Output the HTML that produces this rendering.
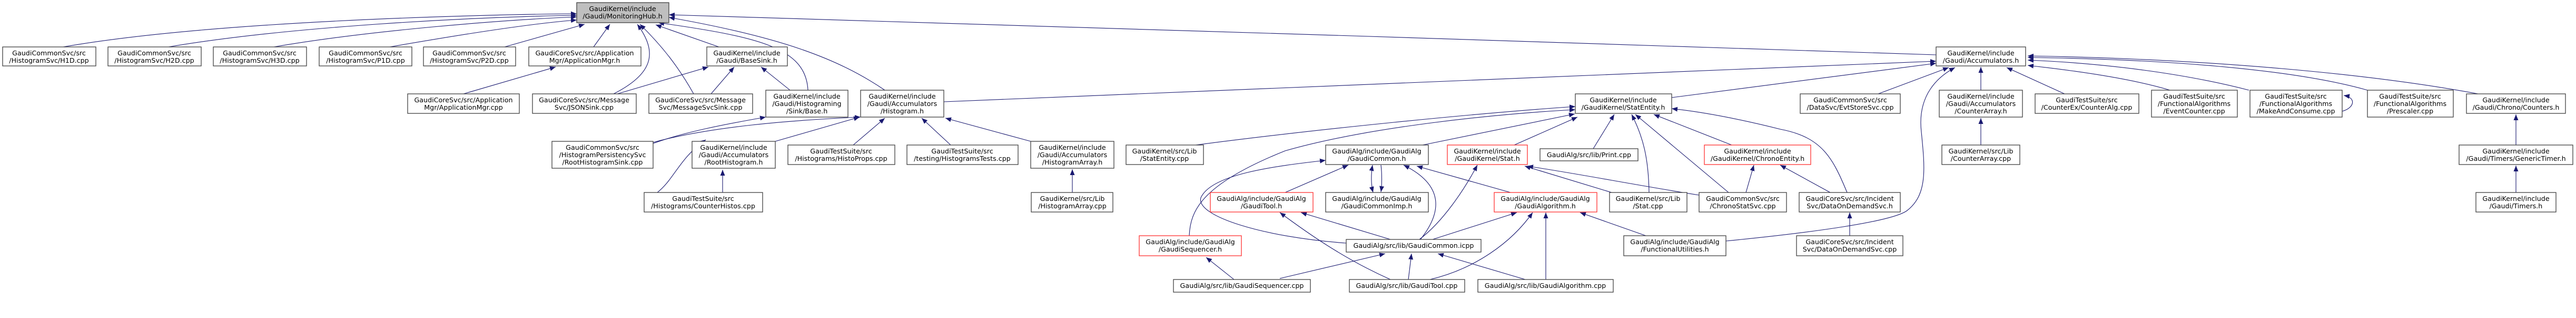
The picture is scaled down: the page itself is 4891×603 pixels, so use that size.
<!DOCTYPE html>
<html><head><meta charset="utf-8"><style>
html,body{margin:0;padding:0;background:#fff;}
svg{display:block;}
text{font-family:"DejaVu Sans","Liberation Sans",sans-serif;font-size:12.7px;fill:#000;text-anchor:middle;}
.n{fill:#fff;stroke:#404040;stroke-width:1.3;}
.r{fill:#fff;stroke:#ff3030;stroke-width:1.3;}
.g{fill:#bfbfbf;stroke:#404040;stroke-width:1.3;}
.e{fill:none;stroke:#191970;stroke-width:1.1;marker-end:url(#a);}
.e2{fill:none;stroke:#191970;stroke-width:1.1;marker-end:url(#a);marker-start:url(#b);}
</style></head><body>
<svg width="4891" height="603" viewBox="0 0 4891 603" xmlns="http://www.w3.org/2000/svg">
<defs>
<marker id="a" markerUnits="userSpaceOnUse" markerWidth="11" markerHeight="9" refX="11" refY="4.5" orient="auto"><path d="M0,0 L11,4.5 L0,9 z" fill="#191970"/></marker>
<marker id="b" markerUnits="userSpaceOnUse" markerWidth="11" markerHeight="9" refX="0" refY="4.5" orient="auto"><path d="M11,0 L0,4.5 L11,9 z" fill="#191970"/></marker>
</defs>
<!-- edges -->
<path class="e" d="M120,89 C400,40 900,28 1095,26"/>
<path class="e" d="M320,89 C550,50 900,32 1095,29"/>
<path class="e" d="M520,89 C700,58 950,38 1095,32"/>
<path class="e" d="M740,89 C850,70 1000,45 1095,38"/>
<path class="e" d="M958,89 L1110,46"/>
<path class="e" d="M1127,89 L1158,46"/>
<path class="e" d="M1165,178 C1240,140 1250,100 1210,46"/>
<path class="e" d="M1317,178 C1290,130 1260,90 1215,46"/>
<path class="e" d="M1365,89 L1245,47"/>
<path class="e" d="M1534,171 C1530,90 1440,70 1250,43"/>
<path class="e" d="M1680,171 C1590,110 1480,70 1270,33"/>
<path class="e" d="M3676,104 C3000,80 1800,45 1270,28"/>
<path class="e" d="M880,178 L1055,127"/>
<path class="e" d="M1172,178 L1345,127"/>
<path class="e" d="M1350,178 L1394,127"/>
<path class="e" d="M1500,171 L1445,127"/>
<path class="e" d="M1240,272 C1300,250 1380,235 1454,222"/>
<path class="e" d="M1240,270 C1350,240 1500,228 1634,222"/>
<path class="e" d="M1472,268 L1632,222"/>
<path class="e" d="M1248,365 C1280,340 1290,300 1340,265"/>
<path class="e" d="M1372,365 L1372,322"/>
<path class="e" d="M1620,275 L1680,224"/>
<path class="e" d="M1805,275 L1750,224"/>
<path class="e" d="M1957,268 L1795,224"/>
<path class="e" d="M2036,365 L2036,321"/>
<path class="e" d="M1792,193 C2500,170 3200,140 3676,116"/>
<path class="e" d="M3174,185 L3676,120"/>
<path class="e" d="M3566,178 L3700,128"/>
<path class="e" d="M3277,457 C3450,440 3590,420 3620,400 C3660,370 3655,320 3648,250 C3640,180 3680,145 3712,128"/>
<path class="e" d="M3761,171 L3761,127"/>
<path class="e" d="M3920,178 L3810,128"/>
<path class="e" d="M4120,171 C4050,150 3950,135 3850,124"/>
<path class="e" d="M4270,171 C4150,140 4000,120 3850,114"/>
<path class="e" d="M4495,171 C4350,130 4100,112 3850,109"/>
<path class="e" d="M4705,178 C4500,140 4200,112 3850,106"/>
<path class="e" d="M4447,211 C4470,205 4475,185 4450,181"/>
<path class="e" d="M3761,275 L3761,224"/>
<path class="e" d="M4777,275 L4777,217"/>
<path class="e" d="M4777,365 L4777,314"/>
<path class="e" d="M2270,275 C2500,245 2800,215 2991,202"/>
<path class="e" d="M2258,447 C2260,400 2280,350 2440,286 C2600,240 2850,215 2991,208"/>
<path class="e" d="M2556,461 C2400,450 2270,410 2280,375 C2300,330 2420,315 2517,304"/>
<path class="e" d="M2701,275 L2990,216"/>
<path class="e" d="M2875,275 L2995,222"/>
<path class="e" d="M3025,282 L3065,217"/>
<path class="e" d="M3131,365 C3130,300 3120,260 3098,217"/>
<path class="e" d="M3282,365 L3105,217"/>
<path class="e" d="M3288,275 L3140,217"/>
<path class="e" d="M3507,365 C3480,300 3460,260 3380,245 C3300,225 3230,212 3174,206"/>
<path class="e" d="M3315,365 L3330,313"/>
<path class="e" d="M3475,365 L3380,313"/>
<path class="e" d="M3512,447 L3512,403"/>
<path class="e" d="M2440,365 L2560,313"/>
<path class="e2" d="M2607,365 C2603,350 2603,330 2606,313"/>
<path class="e" d="M2622,313 C2624,330 2624,350 2622,364"/>
<path class="e" d="M2697,454 C2740,400 2740,350 2665,313"/>
<path class="e" d="M2868,365 L2690,315"/>
<path class="e" d="M3060,365 L2895,315"/>
<path class="e" d="M3226,370 C3100,350 3000,330 2900,315"/>
<path class="e" d="M2695,454 C2740,420 2780,360 2805,313"/>
<path class="e" d="M2640,454 L2470,403"/>
<path class="e" d="M2640,530 C2550,490 2480,440 2430,403"/>
<path class="e" d="M2720,454 L2880,403"/>
<path class="e" d="M2715,530 C2800,510 2870,460 2910,403"/>
<path class="e" d="M2935,530 L2935,403"/>
<path class="e" d="M3125,447 L3000,403"/>
<path class="e" d="M2430,528 L2630,481"/>
<path class="e" d="M2674,530 L2680,481"/>
<path class="e" d="M2896,530 L2730,481"/>
<path class="e" d="M2343,530 L2290,488"/>
<!-- nodes -->
<rect class="g" x="1095" y="5" width="175" height="38"/><text x="1182" y="21">GaudiKernel/include</text><text x="1182" y="35">/Gaudi/MonitoringHub.h</text>
<rect class="n" x="5" y="89" width="177" height="36"/><text x="93" y="105">GaudiCommonSvc/src</text><text x="93" y="119">/HistogramSvc/H1D.cpp</text>
<rect class="n" x="205" y="89" width="177" height="36"/><text x="293" y="105">GaudiCommonSvc/src</text><text x="293" y="119">/HistogramSvc/H2D.cpp</text>
<rect class="n" x="405" y="89" width="177" height="36"/><text x="493" y="105">GaudiCommonSvc/src</text><text x="493" y="119">/HistogramSvc/H3D.cpp</text>
<rect class="n" x="606" y="89" width="176" height="36"/><text x="694" y="105">GaudiCommonSvc/src</text><text x="694" y="119">/HistogramSvc/P1D.cpp</text>
<rect class="n" x="804" y="89" width="175" height="36"/><text x="891" y="105">GaudiCommonSvc/src</text><text x="891" y="119">/HistogramSvc/P2D.cpp</text>
<rect class="n" x="1004" y="89" width="213" height="36"/><text x="1110" y="105">GaudiCoreSvc/src/Application</text><text x="1110" y="119">Mgr/ApplicationMgr.h</text>
<rect class="n" x="1342" y="89" width="153" height="36"/><text x="1418" y="105">GaudiKernel/include</text><text x="1418" y="119">/Gaudi/BaseSink.h</text>
<rect class="n" x="3676" y="89" width="170" height="36"/><text x="3761" y="105">GaudiKernel/include</text><text x="3761" y="119">/Gaudi/Accumulators.h</text>
<rect class="n" x="774" y="178" width="212" height="37"/><text x="880" y="194">GaudiCoreSvc/src/Application</text><text x="880" y="208">Mgr/ApplicationMgr.cpp</text>
<rect class="n" x="1011" y="178" width="197" height="37"/><text x="1109" y="194">GaudiCoreSvc/src/Message</text><text x="1109" y="208">Svc/JSONSink.cpp</text>
<rect class="n" x="1232" y="178" width="197" height="37"/><text x="1330" y="194">GaudiCoreSvc/src/Message</text><text x="1330" y="208">Svc/MessageSvcSink.cpp</text>
<rect class="n" x="1454" y="171" width="156" height="51"/><text x="1532" y="187">GaudiKernel/include</text><text x="1532" y="201">/Gaudi/Histograming</text><text x="1532" y="215">/Sink/Base.h</text>
<rect class="n" x="1634" y="171" width="158" height="51"/><text x="1713" y="187">GaudiKernel/include</text><text x="1713" y="201">/Gaudi/Accumulators</text><text x="1713" y="215">/Histogram.h</text>
<rect class="n" x="2991" y="178" width="183" height="37"/><text x="3082" y="194">GaudiKernel/include</text><text x="3082" y="208">/GaudiKernel/StatEntity.h</text>
<rect class="n" x="3418" y="178" width="190" height="37"/><text x="3513" y="194">GaudiCommonSvc/src</text><text x="3513" y="208">/DataSvc/EvtStoreSvc.cpp</text>
<rect class="n" x="3682" y="171" width="158" height="51"/><text x="3761" y="187">GaudiKernel/include</text><text x="3761" y="201">/Gaudi/Accumulators</text><text x="3761" y="215">/CounterArray.h</text>
<rect class="n" x="3864" y="178" width="197" height="37"/><text x="3962" y="194">GaudiTestSuite/src</text><text x="3962" y="208">/CounterEx/CounterAlg.cpp</text>
<rect class="n" x="4085" y="171" width="163" height="51"/><text x="4166" y="187">GaudiTestSuite/src</text><text x="4166" y="201">/FunctionalAlgorithms</text><text x="4166" y="215">/EventCounter.cpp</text>
<rect class="n" x="4272" y="171" width="175" height="51"/><text x="4359" y="187">GaudiTestSuite/src</text><text x="4359" y="201">/FunctionalAlgorithms</text><text x="4359" y="215">/MakeAndConsume.cpp</text>
<rect class="n" x="4495" y="171" width="163" height="51"/><text x="4576" y="187">GaudiTestSuite/src</text><text x="4576" y="201">/FunctionalAlgorithms</text><text x="4576" y="215">/Prescaler.cpp</text>
<rect class="n" x="4683" y="178" width="188" height="37"/><text x="4777" y="194">GaudiKernel/include</text><text x="4777" y="208">/Gaudi/Chrono/Counters.h</text>
<rect class="n" x="1048" y="268" width="192" height="51"/><text x="1144" y="284">GaudiCommonSvc/src</text><text x="1144" y="298">/HistogramPersistencySvc</text><text x="1144" y="312">/RootHistogramSink.cpp</text>
<rect class="n" x="1314" y="268" width="158" height="51"/><text x="1393" y="284">GaudiKernel/include</text><text x="1393" y="298">/Gaudi/Accumulators</text><text x="1393" y="312">/RootHistogram.h</text>
<rect class="n" x="1496" y="275" width="203" height="37"/><text x="1597" y="291">GaudiTestSuite/src</text><text x="1597" y="305">/Histograms/HistoProps.cpp</text>
<rect class="n" x="1722" y="275" width="211" height="37"/><text x="1827" y="291">GaudiTestSuite/src</text><text x="1827" y="305">/testing/HistogramsTests.cpp</text>
<rect class="n" x="1957" y="268" width="158" height="51"/><text x="2036" y="284">GaudiKernel/include</text><text x="2036" y="298">/Gaudi/Accumulators</text><text x="2036" y="312">/HistogramArray.h</text>
<rect class="n" x="2138" y="275" width="147" height="37"/><text x="2211" y="291">GaudiKernel/src/Lib</text><text x="2211" y="305">/StatEntity.cpp</text>
<rect class="n" x="2517" y="275" width="195" height="37"/><text x="2614" y="291">GaudiAlg/include/GaudiAlg</text><text x="2614" y="305">/GaudiCommon.h</text>
<rect class="r" x="2748" y="275" width="152" height="37"/><text x="2824" y="291">GaudiKernel/include</text><text x="2824" y="305">/GaudiKernel/Stat.h</text>
<rect class="n" x="2924" y="282" width="186" height="23"/><text x="3017" y="298">GaudiAlg/src/lib/Print.cpp</text>
<rect class="r" x="3236" y="275" width="202" height="37"/><text x="3337" y="291">GaudiKernel/include</text><text x="3337" y="305">/GaudiKernel/ChronoEntity.h</text>
<rect class="n" x="3687" y="275" width="148" height="37"/><text x="3761" y="291">GaudiKernel/src/Lib</text><text x="3761" y="305">/CounterArray.cpp</text>
<rect class="n" x="4669" y="275" width="216" height="37"/><text x="4777" y="291">GaudiKernel/include</text><text x="4777" y="305">/Gaudi/Timers/GenericTimer.h</text>
<rect class="n" x="1223" y="365" width="225" height="37"/><text x="1335" y="381">GaudiTestSuite/src</text><text x="1335" y="395">/Histograms/CounterHistos.cpp</text>
<rect class="n" x="1958" y="365" width="155" height="37"/><text x="2036" y="381">GaudiKernel/src/Lib</text><text x="2036" y="395">/HistogramArray.cpp</text>
<rect class="r" x="2298" y="365" width="195" height="37"/><text x="2395" y="381">GaudiAlg/include/GaudiAlg</text><text x="2395" y="395">/GaudiTool.h</text>
<rect class="n" x="2517" y="365" width="195" height="37"/><text x="2614" y="381">GaudiAlg/include/GaudiAlg</text><text x="2614" y="395">/GaudiCommonImp.h</text>
<rect class="r" x="2837" y="365" width="195" height="37"/><text x="2934" y="381">GaudiAlg/include/GaudiAlg</text><text x="2934" y="395">/GaudiAlgorithm.h</text>
<rect class="n" x="3056" y="365" width="147" height="37"/><text x="3129" y="381">GaudiKernel/src/Lib</text><text x="3129" y="395">/Stat.cpp</text>
<rect class="n" x="3226" y="365" width="166" height="37"/><text x="3309" y="381">GaudiCommonSvc/src</text><text x="3309" y="395">/ChronoStatSvc.cpp</text>
<rect class="n" x="3416" y="365" width="192" height="37"/><text x="3512" y="381">GaudiCoreSvc/src/Incident</text><text x="3512" y="395">Svc/DataOnDemandSvc.h</text>
<rect class="n" x="4701" y="365" width="152" height="37"/><text x="4777" y="381">GaudiKernel/include</text><text x="4777" y="395">/Gaudi/Timers.h</text>
<rect class="r" x="2163" y="447" width="194" height="38"/><text x="2260" y="463">GaudiAlg/include/GaudiAlg</text><text x="2260" y="477">/GaudiSequencer.h</text>
<rect class="n" x="2556" y="454" width="256" height="24"/><text x="2684" y="470">GaudiAlg/src/lib/GaudiCommon.icpp</text>
<rect class="n" x="3083" y="447" width="194" height="38"/><text x="3180" y="463">GaudiAlg/include/GaudiAlg</text><text x="3180" y="477">/FunctionalUtilities.h</text>
<rect class="n" x="3411" y="447" width="202" height="38"/><text x="3512" y="463">GaudiCoreSvc/src/Incident</text><text x="3512" y="477">Svc/DataOnDemandSvc.cpp</text>
<rect class="n" x="2228" y="530" width="260" height="24"/><text x="2358" y="546">GaudiAlg/src/lib/GaudiSequencer.cpp</text>
<rect class="n" x="2562" y="530" width="219" height="24"/><text x="2671" y="546">GaudiAlg/src/lib/GaudiTool.cpp</text>
<rect class="n" x="2806" y="530" width="257" height="24"/><text x="2934" y="546">GaudiAlg/src/lib/GaudiAlgorithm.cpp</text>
</svg>
</body></html>
